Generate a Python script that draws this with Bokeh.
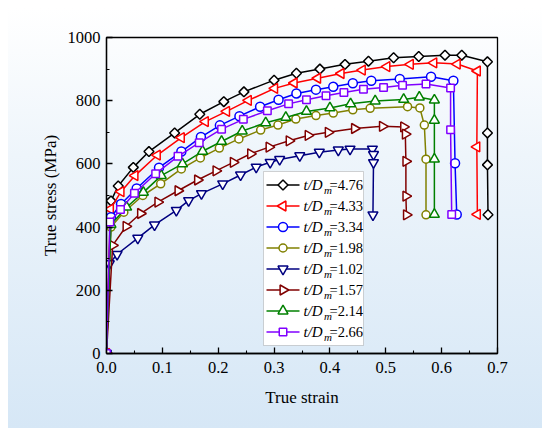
import math
from bokeh.plotting import figure
from bokeh.models import (FixedTicker, NumeralTickFormatter, BoxAnnotation,
                          LabelSet, ColumnDataSource, Range1d)
from bokeh.embed import file_html
from bokeh.resources import INLINE

# ---------------- data ----------------
labels = ["4.76", "4.33", "3.34", "1.98", "1.02", "1.57", "2.14", "2.66"]

x_476 = [0, 0.008, 0.021, 0.048, 0.076, 0.122, 0.167, 0.210, 0.246, 0.300, 0.340, 0.382,
         0.427, 0.469, 0.514, 0.559, 0.606, 0.636, 0.682, 0.682, 0.682, 0.683]
y_476 = [0, 483, 530, 589, 639, 698, 757, 797, 828, 865, 887, 900,
         915, 925, 936, 940, 944, 944, 923, 698, 597, 439]

x_433 = [0, 0.007, 0.026, 0.051, 0.091, 0.134, 0.177, 0.215, 0.254, 0.301, 0.336, 0.378,
         0.420, 0.458, 0.502, 0.544, 0.586, 0.628, 0.664, 0.663, 0.664]
y_433 = [0, 457, 512, 563, 628, 683, 734, 766, 801, 839, 856, 871,
         886, 897, 908, 915, 920, 916, 894, 654, 440]

x_334 = [0, 0.008, 0.026, 0.054, 0.094, 0.134, 0.169, 0.203, 0.238, 0.275, 0.308, 0.340,
         0.375, 0.406, 0.441, 0.474, 0.525, 0.581, 0.621, 0.624, 0.627]
y_334 = [0, 431, 473, 522, 588, 639, 685, 722, 751, 781, 803, 823,
         835, 844, 855, 863, 869, 876, 863, 602, 440]

x_198 = [0, 0.008, 0.031, 0.065, 0.097, 0.134, 0.168, 0.202, 0.237, 0.276, 0.307, 0.339,
         0.375, 0.406, 0.441, 0.472, 0.539, 0.561, 0.569, 0.572, 0.572]
y_198 = [0, 400, 447, 500, 537, 584, 619, 650, 679, 707, 723, 742,
         753, 761, 771, 776, 781, 777, 723, 615, 439]

x_102 = [0, 0.005, 0.019, 0.056, 0.086, 0.125, 0.147, 0.170, 0.208, 0.240, 0.268, 0.293,
         0.310, 0.346, 0.381, 0.415, 0.436, 0.476, 0.478, 0.478, 0.477]
y_102 = [0, 284, 314, 365, 407, 453, 484, 506, 537, 565, 590, 605,
         614, 626, 637, 644, 647, 647, 630, 604, 439]

x_157 = [0, 0.011, 0.035, 0.061, 0.092, 0.128, 0.163, 0.196, 0.227, 0.258, 0.291, 0.327,
         0.361, 0.397, 0.444, 0.494, 0.532, 0.535, 0.536, 0.536, 0.537]
y_157 = [0, 342, 402, 443, 479, 515, 549, 578, 605, 632, 653, 673,
         690, 700, 712, 719, 717, 694, 608, 498, 439]

x_214 = [0, 0.008, 0.036, 0.066, 0.098, 0.136, 0.172, 0.206, 0.243, 0.285, 0.321, 0.358,
         0.400, 0.437, 0.481, 0.532, 0.560, 0.587, 0.587, 0.587, 0.587]
y_214 = [0, 408, 463, 510, 563, 600, 640, 671, 704, 730, 747, 766,
         777, 790, 799, 804, 811, 802, 738, 615, 440]

x_266 = [0, 0.006, 0.025, 0.050, 0.088, 0.128, 0.166, 0.206, 0.245, 0.288, 0.326, 0.358,
         0.393, 0.425, 0.460, 0.496, 0.530, 0.572, 0.616, 0.616, 0.618]
y_266 = [0, 416, 456, 507, 569, 624, 667, 710, 741, 768, 790, 803,
         816, 826, 836, 842, 849, 853, 840, 708, 440]

x_ticks = [0.0, 0.1, 0.2, 0.3, 0.4, 0.5, 0.6, 0.7]
x_minor = [0.05, 0.15, 0.25, 0.35, 0.45, 0.55, 0.65]
y_ticks = [0, 200, 400, 600, 800, 1000]
y_minor = [100, 300, 500, 700, 900]

series = [
    (x_476, y_476, "#000000", "square", math.pi / 4, 7),
    (x_433, y_433, "#FF0000", "triangle", math.pi / 2, 10),
    (x_334, y_334, "#0000FF", "circle", 0, 9),
    (x_198, y_198, "#808000", "circle", 0, 8),
    (x_102, y_102, "#000080", "inverted_triangle", 0, 10),
    (x_157, y_157, "#800000", "triangle", -math.pi / 2, 10),
    (x_214, y_214, "#008000", "triangle", 0, 10),
    (x_266, y_266, "#8000FF", "square", 0, 7.5),
]

FONT = "Liberation Serif"
W, H = 550, 436
BL, BR, BT, BB = 106, 53, 37, 83
X0, X1, Y0, Y1 = 0, 0.7, 0, 1000
FW, FH = W - BL - BR, H - BT - BB   # frame size in px

p = figure(width=W, height=H, output_backend="svg", toolbar_location=None,
           x_range=Range1d(X0, X1), y_range=Range1d(Y0, Y1),
           min_border_left=BL, min_border_right=BR, min_border_top=BT, min_border_bottom=BB,
           x_axis_label="True strain", y_axis_label="True stress (MPa)")
p.styles = {"background": "linear-gradient(to bottom, #ffffff 0%, #eef5fb 35%, #d6e7f6 100%) "
                          "8px 8px / 534px 420px no-repeat #ffffff"}
p.background_fill_alpha = 0
p.border_fill_alpha = 0
p.outline_line_color = "#000000"
p.outline_line_width = 1.3
p.grid.visible = False

p.xaxis.ticker = FixedTicker(ticks=x_ticks, minor_ticks=x_minor)
p.yaxis.ticker = FixedTicker(ticks=y_ticks, minor_ticks=y_minor)
p.xaxis.formatter = NumeralTickFormatter(format="0.0")
for ax in (p.xaxis[0], p.yaxis[0]):
    ax.major_tick_in = 6
    ax.major_tick_out = 0
    ax.minor_tick_in = 3
    ax.minor_tick_out = 0
    ax.axis_line_width = 1.3
    ax.major_tick_line_width = 1.3
    ax.minor_tick_line_width = 1.1
    ax.axis_line_color = "#000000"
    ax.major_tick_line_color = "#000000"
    ax.minor_tick_line_color = "#000000"
    ax.major_label_text_font = FONT
    ax.major_label_text_font_size = "16.5px"
    ax.major_label_text_color = "#000000"
    ax.axis_label_text_font = FONT
    ax.axis_label_text_font_size = "17px"
    ax.axis_label_text_font_style = "normal"
    ax.axis_label_text_color = "#000000"
p.xaxis.major_label_standoff = 8
p.yaxis.major_label_standoff = 6
p.xaxis.axis_label_standoff = 12
p.yaxis.axis_label_standoff = 5

for (xs, ys, col, mk, ang, sz) in series:
    src = ColumnDataSource(dict(x=xs, y=ys))
    p.line("x", "y", source=src, line_color=col, line_width=1.5)
    p.scatter("x", "y", source=src, marker=mk, angle=ang, size=sz,
              line_color=col, line_width=1.5, fill_color="white")

# ---------------- legend (box, samples, texts) ----------------
LG_L, LG_B, LG_W, LG_H = 157, 8, 100, 174      # frame-relative px
ROW, PAD = 21, 3
n = len(labels)
row_c = [LG_B + LG_H - PAD - ROW / 2 - ROW * i for i in range(n)]

p.add_layout(BoxAnnotation(left=LG_L, right=LG_L + LG_W, bottom=LG_B, top=LG_B + LG_H,
                           left_units="screen", right_units="screen",
                           bottom_units="screen", top_units="screen",
                           fill_color="white", fill_alpha=1, line_color="#707070",
                           line_width=1, level="underlay"))

def px2x(px):
    return X0 + (X1 - X0) * px / FW

def px2y(py):
    return Y0 + (Y1 - Y0) * py / FH

for i, (xs, ys, col, mk, ang, sz) in enumerate(series):
    yc = px2y(row_c[i])
    p.line([px2x(LG_L + 3), px2x(LG_L + 36)], [yc, yc], line_color=col, line_width=1.5)
    p.scatter([px2x(LG_L + 19.5)], [yc], marker=mk, angle=ang, size=sz,
              line_color=col, line_width=1.5, fill_color="white")

row_base = [c - 5 for c in row_c]
src_a = ColumnDataSource(dict(x=[LG_L + 40] * n, y=row_base, t=["t/D"] * n))
src_b = ColumnDataSource(dict(x=[LG_L + 60.5] * n, y=[b - 3.5 for b in row_base], t=["m"] * n))
src_c = ColumnDataSource(dict(x=[LG_L + 66] * n, y=row_base, t=["=" + s for s in labels]))
for src, fs, style in ((src_a, "15px", "italic"), (src_b, "11px", "italic"), (src_c, "14.5px", "normal")):
    p.add_layout(LabelSet(x="x", y="y", text="t", source=src, x_units="screen", y_units="screen",
                          text_font=FONT, text_font_size=fs, text_font_style=style, level="overlay",
                          text_color="#000000", text_baseline="alphabetic", text_align="left"))

open("out.html", "w").write(file_html(p, INLINE))
